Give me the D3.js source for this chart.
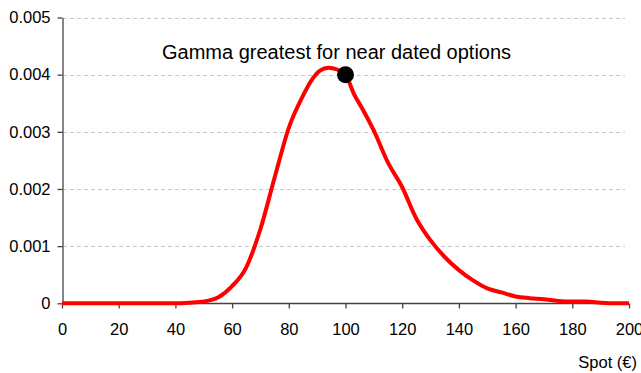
<!DOCTYPE html>
<html><head><meta charset="utf-8">
<script src="https://cdn.jsdelivr.net/npm/d3@7"></script>
<style>body{margin:0;background:#fff}svg{display:block}text{font-family:"Liberation Sans",Arial,sans-serif;fill:#000}</style>
</head><body>
<svg id="c" width="641" height="373"></svg>
<script>
const spot = [0,10,20,30,40,45,50,55,60,65,70,75,80,85,88,91,94,97,100,103,106,110,115,120,125,130,135,140,145,150,155,160,165,170,175,180,185,190,195,200];
const gamma = [0,0,0,0,0,0.00001,0.00003,0.0001,0.0003,0.00063,0.0013,0.0022,0.00307,0.00363,0.0039,0.00407,0.00412,0.00409,0.004,0.00366,0.0034,0.00302,0.00246,0.00203,0.00148,0.0011,0.00081,0.00058,0.0004,0.00026,0.00019,0.00012,0.00009,0.00007,0.00004,0.00003,0.00003,0.00001,0,0];
const xTicks = [0,20,40,60,80,100,120,140,160,180,200];
const yTicks = [0,0.001,0.002,0.003,0.004,0.005];
const yTickLabels = ["0","0.001","0.002","0.003","0.004","0.005"];
const marker = {spot:100, gamma:0.004};
const annotation = "Gamma greatest for near dated options";
const xTitle = "Spot (€)";

const svg = d3.select("#c");
const x = d3.scaleLinear().domain([0,200]).range([62,629]);
const y = d3.scaleLinear().domain([0,0.005]).range([303.3,17.5]);

// gridlines
svg.append("g").selectAll("line").data(yTicks.filter(d=>d>0)).join("line")
  .attr("x1",63).attr("x2",625).attr("y1",d=>Math.round(y(d))+0.5).attr("y2",d=>Math.round(y(d))+0.5)
  .attr("stroke","#c8c8c8").attr("stroke-width",1).attr("stroke-dasharray","4,3");

// axes
const xAxis = svg.append("g").attr("transform","translate(0,303.5)")
  .call(d3.axisBottom(x).tickValues(xTicks).tickSize(5).tickSizeOuter(0).tickPadding(15).tickFormat(d3.format("d")));
const yAxis = svg.append("g").attr("transform","translate(62.5,0)")
  .call(d3.axisLeft(y).tickValues(yTicks).tickSize(5).tickSizeOuter(0).tickPadding(7).tickFormat((d,i)=>yTickLabels[i]));
[xAxis,yAxis].forEach(a=>{
  a.selectAll("path,line").attr("stroke","#444").attr("stroke-width",1.3);
  a.selectAll("text").attr("font-size","16.5px").attr("font-family","Liberation Sans, Arial, sans-serif").attr("fill","#000");
});
xAxis.select(".domain").attr("d","M62,0H629");

// curve
const data = spot.map((s,i)=>({s, g:gamma[i]}));
svg.append("path").datum(data)
  .attr("d", d3.line().x(d=>x(d.s)).y(d=>y(d.g)).curve(d3.curveMonotoneX))
  .attr("fill","none").attr("stroke","#ff0000").attr("stroke-width",4).attr("stroke-linejoin","round");

// marker
svg.append("circle").attr("cx",x(marker.spot)).attr("cy",y(marker.gamma)).attr("r",8.5).attr("fill","#000");

svg.append("text").attr("x",162).attr("y",59).attr("font-size","20px").text(annotation);
svg.append("text").attr("x",637).attr("y",368).attr("text-anchor","end").attr("font-size","16.5px").text(xTitle);
</script>
</body></html>
